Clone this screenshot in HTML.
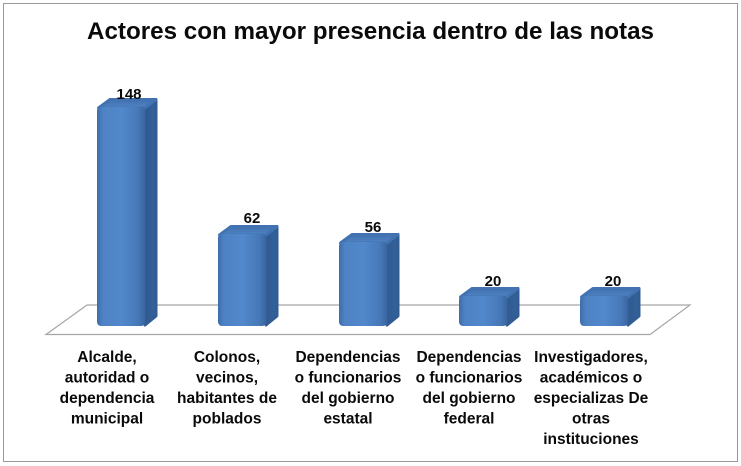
<!DOCTYPE html>
<html>
<head>
<meta charset="utf-8">
<style>
  html, body { margin: 0; padding: 0; background: #ffffff; }
  svg { display: block; }
  text { font-family: "Liberation Sans", Arial, sans-serif; font-weight: bold; fill: #0a0a0a; }
</style>
</head>
<body>
<svg width="741" height="466" viewBox="0 0 741 466" xmlns="http://www.w3.org/2000/svg">
  <defs>
    <linearGradient id="front" x1="0" y1="0" x2="1" y2="0">
      <stop offset="0" stop-color="#3d6dab"/>
      <stop offset="0.12" stop-color="#4e82c4"/>
      <stop offset="0.5" stop-color="#5189cc"/>
      <stop offset="0.85" stop-color="#4779b9"/>
      <stop offset="1" stop-color="#3a66a0"/>
    </linearGradient>
    <linearGradient id="side" x1="0" y1="0" x2="1" y2="0">
      <stop offset="0" stop-color="#2f5a90"/>
      <stop offset="1" stop-color="#33629a"/>
    </linearGradient>
    <linearGradient id="top" x1="0" y1="0" x2="0" y2="1">
      <stop offset="0" stop-color="#3f6fad"/>
      <stop offset="1" stop-color="#5286c7"/>
    </linearGradient>
  </defs>

  <rect x="0" y="0" width="741" height="466" fill="#ffffff"/>
  <rect x="3.5" y="3.5" width="734" height="458" fill="#ffffff" stroke="#999999" stroke-width="1"/>

  <!-- Title -->
  <text x="87" y="39" font-size="24.5" textLength="567" lengthAdjust="spacingAndGlyphs">Actores con mayor presencia dentro de las notas</text>

  <!-- Floor -->
  <polygon points="46,334.5 87,305 690,305 650,334.5" fill="none" stroke="#a6a6a6" stroke-width="1.2"/>

  <!-- Bars -->
  <g stroke-linejoin="round" stroke-width="3">
    <!-- bar 1 -->
    <polygon points="145,108 156,99.5 156,316 145,325" fill="url(#side)" stroke="#315d94"/>
    <polygon points="98.5,108 110,99.5 156,99.5 145,108" fill="url(#top)" stroke="#4272b1"/>
    <rect x="97" y="107" width="48" height="219" rx="4" fill="url(#front)" stroke="none"/>
    <!-- bar 2 -->
    <polygon points="266,235 277,226.5 277,316 266,325" fill="url(#side)" stroke="#315d94"/>
    <polygon points="219.5,235 231,226.5 277,226.5 266,235" fill="url(#top)" stroke="#4272b1"/>
    <rect x="218" y="234" width="48" height="92" rx="4" fill="url(#front)" stroke="none"/>
    <!-- bar 3 -->
    <polygon points="387,243 398,234.5 398,316 387,325" fill="url(#side)" stroke="#315d94"/>
    <polygon points="340.5,243 352,234.5 398,234.5 387,243" fill="url(#top)" stroke="#4272b1"/>
    <rect x="339" y="242" width="48" height="84" rx="4" fill="url(#front)" stroke="none"/>
    <!-- bar 4 -->
    <polygon points="507,297 518,288.5 518,316 507,325" fill="url(#side)" stroke="#315d94"/>
    <polygon points="460.5,297 472,288.5 518,288.5 507,297" fill="url(#top)" stroke="#4272b1"/>
    <rect x="459" y="296" width="48" height="30" rx="4" fill="url(#front)" stroke="none"/>
    <!-- bar 5 -->
    <polygon points="628,297 639,288.5 639,316 628,325" fill="url(#side)" stroke="#315d94"/>
    <polygon points="581.5,297 593,288.5 639,288.5 628,297" fill="url(#top)" stroke="#4272b1"/>
    <rect x="580" y="296" width="48" height="30" rx="4" fill="url(#front)" stroke="none"/>
  </g>

  <!-- Data labels -->
  <g font-size="15" text-anchor="middle">
    <text x="129" y="99">148</text>
    <text x="252" y="223">62</text>
    <text x="373" y="232">56</text>
    <text x="493" y="286">20</text>
    <text x="613" y="286">20</text>
  </g>

  <!-- Category labels -->
  <g font-size="15.5" text-anchor="middle">
    <text x="107" y="362">Alcalde,</text>
    <text x="107" y="382.5">autoridad o</text>
    <text x="107" y="403">dependencia</text>
    <text x="107" y="423.5">municipal</text>

    <text x="227" y="362">Colonos,</text>
    <text x="227" y="382.5">vecinos,</text>
    <text x="227" y="403">habitantes de</text>
    <text x="227" y="423.5">poblados</text>

    <text x="348" y="362">Dependencias</text>
    <text x="348" y="382.5">o funcionarios</text>
    <text x="348" y="403">del gobierno</text>
    <text x="348" y="423.5">estatal</text>

    <text x="469" y="362">Dependencias</text>
    <text x="469" y="382.5">o funcionarios</text>
    <text x="469" y="403">del gobierno</text>
    <text x="469" y="423.5">federal</text>

    <text x="591" y="362">Investigadores,</text>
    <text x="591" y="382.5">académicos o</text>
    <text x="591" y="403">especializas De</text>
    <text x="591" y="423.5">otras</text>
    <text x="591" y="444">instituciones</text>
  </g>
</svg>
</body>
</html>
